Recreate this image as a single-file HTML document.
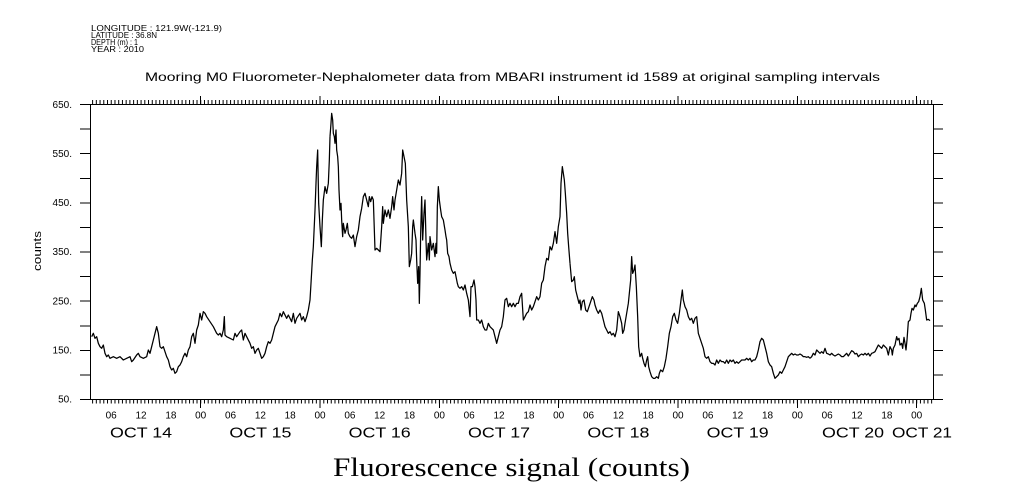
<!DOCTYPE html>
<html>
<head>
<meta charset="utf-8">
<style>
html,body{margin:0;padding:0;background:#fff;}
svg{display:block;}
text{font-family:"Liberation Sans",sans-serif;fill:#000;}
.serif{font-family:"Liberation Serif",serif;}
.d{fill:none;stroke:#000;stroke-width:1.25;stroke-linejoin:round;}
</style>
</head>
<body>
<svg width="1009" height="504" viewBox="0 0 1009 504" xmlns="http://www.w3.org/2000/svg">
<rect x="0" y="0" width="1009" height="504" fill="#fff"/>

<!-- header -->
<text x="91" y="31" font-size="8.5" textLength="131" lengthAdjust="spacingAndGlyphs">LONGITUDE : 121.9W(-121.9)</text>
<text x="91" y="38" font-size="8.5" textLength="66" lengthAdjust="spacingAndGlyphs">LATITUDE : 36.8N</text>
<text x="91" y="45" font-size="8.5" textLength="47" lengthAdjust="spacingAndGlyphs">DEPTH (m) : 1</text>
<text x="91" y="52" font-size="8.5" textLength="53" lengthAdjust="spacingAndGlyphs">YEAR : 2010</text>

<!-- title -->
<text x="145" y="81" font-size="12" textLength="735" lengthAdjust="spacingAndGlyphs">Mooring M0 Fluorometer-Nephalometer data from MBARI instrument id 1589 at original sampling intervals</text>

<!-- frame -->
<g stroke="#000" stroke-width="1" shape-rendering="crispEdges" fill="none">
<rect x="90.5" y="104.5" width="843" height="295"/>
<!-- left ticks -->
<line x1="80" y1="104.5" x2="91" y2="104.5"/>
<line x1="80" y1="129.1" x2="91" y2="129.1"/>
<line x1="80" y1="153.7" x2="91" y2="153.7"/>
<line x1="80" y1="178.3" x2="91" y2="178.3"/>
<line x1="80" y1="202.8" x2="91" y2="202.8"/>
<line x1="80" y1="227.4" x2="91" y2="227.4"/>
<line x1="80" y1="252.0" x2="91" y2="252.0"/>
<line x1="80" y1="276.6" x2="91" y2="276.6"/>
<line x1="80" y1="301.2" x2="91" y2="301.2"/>
<line x1="80" y1="325.8" x2="91" y2="325.8"/>
<line x1="80" y1="350.4" x2="91" y2="350.4"/>
<line x1="80" y1="374.9" x2="91" y2="374.9"/>
<line x1="80" y1="399.5" x2="91" y2="399.5"/>
<!-- right ticks -->
<line x1="933" y1="104.5" x2="943" y2="104.5"/>
<line x1="933" y1="129.1" x2="943" y2="129.1"/>
<line x1="933" y1="153.7" x2="943" y2="153.7"/>
<line x1="933" y1="178.3" x2="943" y2="178.3"/>
<line x1="933" y1="202.8" x2="943" y2="202.8"/>
<line x1="933" y1="227.4" x2="943" y2="227.4"/>
<line x1="933" y1="252.0" x2="943" y2="252.0"/>
<line x1="933" y1="276.6" x2="943" y2="276.6"/>
<line x1="933" y1="301.2" x2="943" y2="301.2"/>
<line x1="933" y1="325.8" x2="943" y2="325.8"/>
<line x1="933" y1="350.4" x2="943" y2="350.4"/>
<line x1="933" y1="374.9" x2="943" y2="374.9"/>
<line x1="933" y1="399.5" x2="943" y2="399.5"/>
<!-- major x ticks -->
<line x1="200.7" y1="399" x2="200.7" y2="408"/>
<line x1="320.0" y1="399" x2="320.0" y2="408"/>
<line x1="439.4" y1="399" x2="439.4" y2="408"/>
<line x1="558.7" y1="399" x2="558.7" y2="408"/>
<line x1="678.0" y1="399" x2="678.0" y2="408"/>
<line x1="797.4" y1="399" x2="797.4" y2="408"/>
<line x1="916.7" y1="399" x2="916.7" y2="408"/>
<line x1="200.7" y1="96" x2="200.7" y2="104"/>
<line x1="320.0" y1="96" x2="320.0" y2="104"/>
<line x1="439.4" y1="96" x2="439.4" y2="104"/>
<line x1="558.7" y1="96" x2="558.7" y2="104"/>
<line x1="678.0" y1="96" x2="678.0" y2="104"/>
<line x1="797.4" y1="96" x2="797.4" y2="104"/>
<line x1="916.7" y1="96" x2="916.7" y2="104"/>
</g>
<!-- minor x ticks via dash -->
<line x1="92.1" y1="401.5" x2="933" y2="401.5" stroke="#000" stroke-width="4" stroke-dasharray="1 2.729"/>
<line x1="92.1" y1="102" x2="933" y2="102" stroke="#000" stroke-width="4" stroke-dasharray="1 2.729"/>

<!-- y labels -->
<g font-size="10" text-anchor="end">
<text x="72" y="108">650.</text>
<text x="72" y="157">550.</text>
<text x="72" y="206">450.</text>
<text x="72" y="255">350.</text>
<text x="72" y="304.5">250.</text>
<text x="72" y="353.5">150.</text>
<text x="72" y="402.5">50.</text>
</g>
<text transform="translate(41,251) rotate(-90)" font-size="11" text-anchor="middle" textLength="40" lengthAdjust="spacingAndGlyphs">counts</text>

<!-- hour labels -->
<g font-size="10" text-anchor="middle">
<text x="111.2" y="418.5">06</text>
<text x="141.0" y="418.5">12</text>
<text x="170.9" y="418.5">18</text>
<text x="200.7" y="418.5">00</text>
<text x="230.5" y="418.5">06</text>
<text x="260.4" y="418.5">12</text>
<text x="290.2" y="418.5">18</text>
<text x="320.0" y="418.5">00</text>
<text x="349.9" y="418.5">06</text>
<text x="379.7" y="418.5">12</text>
<text x="409.5" y="418.5">18</text>
<text x="439.4" y="418.5">00</text>
<text x="469.2" y="418.5">06</text>
<text x="499.0" y="418.5">12</text>
<text x="528.9" y="418.5">18</text>
<text x="558.7" y="418.5">00</text>
<text x="588.5" y="418.5">06</text>
<text x="618.4" y="418.5">12</text>
<text x="648.2" y="418.5">18</text>
<text x="678.0" y="418.5">00</text>
<text x="707.9" y="418.5">06</text>
<text x="737.7" y="418.5">12</text>
<text x="767.5" y="418.5">18</text>
<text x="797.4" y="418.5">00</text>
<text x="827.2" y="418.5">06</text>
<text x="857.0" y="418.5">12</text>
<text x="886.9" y="418.5">18</text>
<text x="916.7" y="418.5">00</text>
</g>
<!-- day labels -->
<g font-size="14.5" text-anchor="middle">
<text x="141" y="437.5" textLength="62" lengthAdjust="spacingAndGlyphs">OCT 14</text>
<text x="260.4" y="437.5" textLength="62" lengthAdjust="spacingAndGlyphs">OCT 15</text>
<text x="379.7" y="437.5" textLength="62" lengthAdjust="spacingAndGlyphs">OCT 16</text>
<text x="499" y="437.5" textLength="62" lengthAdjust="spacingAndGlyphs">OCT 17</text>
<text x="618.4" y="437.5" textLength="62" lengthAdjust="spacingAndGlyphs">OCT 18</text>
<text x="737.7" y="437.5" textLength="62" lengthAdjust="spacingAndGlyphs">OCT 19</text>
<text x="853" y="437.5" textLength="62" lengthAdjust="spacingAndGlyphs">OCT 20</text>
<text x="922" y="437.5" textLength="60" lengthAdjust="spacingAndGlyphs">OCT 21</text>
</g>

<!-- bottom label -->
<text class="serif" x="333" y="476" font-size="26" textLength="357" lengthAdjust="spacingAndGlyphs">Fluorescence signal (counts)</text>

<!-- data -->
<g transform="translate(90,100) scale(0.333333)">
<polyline class="d" vector-effect="non-scaling-stroke" points="5,710 10,700 15,715 20,710 25,730 30,740 35,745 40,735 45,760 50,770 55,765 60,775 70,770 80,775 90,770 100,780 110,775 120,770 125,785 130,780 140,765 145,760 150,770 160,775 170,770 175,750 180,760 185,740 190,720 195,700 200,680 205,700 210,740 215,745 220,740 225,755 230,770 235,780 240,800 245,810 250,805 255,820 260,815 265,800 270,795 275,785 280,770 285,760 290,770 295,750 300,740 305,710 310,700 315,730 320,690 325,675 330,640 335,660 340,635 345,640 350,650 360,665 370,680 380,700 385,705 390,700 395,710 400,690 403,650 405,705 410,710 420,715 430,720 435,700 440,710 450,695 455,690 460,720 465,700 470,710 480,730 485,745 490,740 495,760 500,750 505,745 510,760 515,775 520,770 525,760 530,740 535,725 540,730 545,720 550,700 555,680 560,670 565,660 570,640 575,650 580,635 590,655 595,645 600,655 605,665 610,640 615,670 620,655 630,640 635,660 640,650 645,665 650,650 655,630 660,600 663,550 667,480 670,440 675,330 678,250 680,200 683,150 686,310 690,380 694,440 697,360 700,300 705,260 710,280 715,250 718,180 720,110"/>
</g>
<g transform="translate(330,100) scale(0.333333)">
<polyline class="d" vector-effect="non-scaling-stroke" points="0,110 3,70 5,40 8,60 10,100 13,110 15,130 18,90 20,150 23,170 25,200 27,270 30,330 33,310 35,360 38,410 40,370 45,400 48,390 52,370 55,400 60,410 65,415 70,405 75,440 80,410 85,390 90,350 95,325 100,290 105,280 110,300 115,320 118,290 122,305 126,290 130,300 135,450 140,445 145,450 150,455 155,380 158,320 160,370 165,330 170,350 175,330 180,355 185,320 188,290 192,330 195,300 200,270 205,240 210,255 215,220 218,150 222,170 226,190 230,300 235,380 238,500 242,480 245,460 248,380 250,360 255,400 258,420 260,480 263,550 266,500 268,610 270,520 272,400 275,290 278,420 282,340 285,300 288,420 290,480 295,430 298,480 300,410 305,450 310,430 315,470 318,430 320,460 322,320 325,260 328,300 332,330 335,350 340,360 345,390 348,410 350,420 353,460 357,470 360,490 365,510 370,520 375,515 378,530 382,550 385,560 390,565 395,560 400,570 405,555 410,580 415,600 420,650 423,560 427,560 432,540 435,560 438,600 440,660 445,660 450,670 455,660 460,680 465,690 470,690 475,670 480,680 485,685 490,690 495,710 500,730 505,710 510,690 515,680 520,650 525,600 530,595 535,620 540,610 545,620 550,610 555,620 560,610 565,610 570,590 575,580 580,660 585,650 590,640 595,635 600,615 605,630 610,620 615,605 620,590 625,600 630,590 635,550 640,540 645,500 650,475 655,480 660,440 665,450 670,430 675,395 680,430 685,380 690,350 693,250 697,200 700,220 703,240 706,280 710,340 713,400 716,440 720,490"/>
</g>
<g transform="translate(570,100) scale(0.333333)">
<polyline class="d" vector-effect="non-scaling-stroke" points="0,490 5,545 10,540 13,530 17,570 22,590 27,610 30,600 33,630 37,605 42,600 47,630 52,635 57,620 62,605 67,590 72,600 75,615 80,630 85,640 90,630 95,640 100,660 105,680 110,690 115,700 120,695 125,705 130,700 135,710 140,690 145,635 150,650 155,670 158,700 162,690 165,670 170,640 175,610 178,580 182,540 185,470 188,520 192,510 195,495 199,560 203,650 206,740 210,770 215,760 218,775 222,790 226,800 230,780 233,770 236,800 240,815 245,830 250,835 255,835 260,830 265,835 268,820 272,810 278,815 283,800 288,775 293,740 298,700 303,680 308,650 313,640 318,660 323,670 328,640 333,600 337,570 340,600 345,620 350,630 355,650 360,660 365,655 370,670 375,655 380,650 385,700 390,715 395,730 400,745 405,770 410,775 415,770 420,785 425,790 430,790 435,795 440,780 445,790 450,780 455,785 460,785 465,790 470,780 475,790 480,780 485,785 490,780 495,790 500,785 505,790 510,785 515,780 520,780 525,780 530,775 535,780 540,775 545,785 550,780 555,780 560,770 565,750 570,725 575,715 580,720 585,740 590,760 595,785 600,795 605,800 610,820 615,835 620,830 625,825 630,815 635,820 640,810 645,800 650,785 655,770 660,765 665,760 670,765 675,762 680,765 685,765 690,762 695,765 700,770 705,770 710,772 715,770 720,775"/>
</g>
<g transform="translate(780,100) scale(0.333333)">
<polyline class="d" vector-effect="non-scaling-stroke" points="90,775 95,770 100,760 105,765 110,750 115,755 120,760 125,755 130,760 135,745 140,760 145,762 150,765 155,760 160,765 165,768 170,765 175,762 180,765 185,770 190,770 195,765 200,760 205,768 210,760 215,752 220,755 225,762 230,760 235,770 240,765 245,762 250,765 255,760 260,765 265,760 270,768 275,760 280,758 285,755 290,745 295,735 300,740 305,745 310,735 315,740 320,745 325,765 330,740 335,750 337,765 340,745 345,735 350,710 353,720 357,715 360,735 365,730 368,745 372,712 375,730 378,750 381,720 385,665 390,660 393,640 396,625 400,630 405,615 408,620 412,610 416,605 420,590 424,565 428,600 433,610 436,630 440,660 445,658 450,662"/>
</g>
</svg>
</body>
</html>
